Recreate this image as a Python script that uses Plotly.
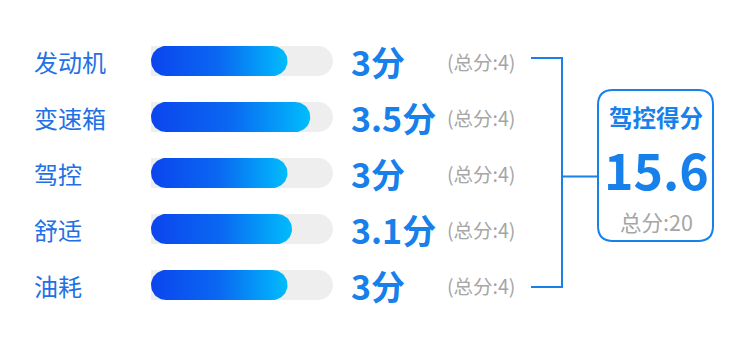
import numpy as np
import plotly.graph_objects as go

# ---- data ----
categories = ["发动机", "变速箱", "驾控", "舒适", "油耗"]
scores = [3, 3.5, 3, 3.1, 3]
max_scores = [4, 4, 4, 4, 4]
summary_title = "驾控得分"

W, H = 750, 339
FONT = "Noto Sans CJK SC"
BLUE_LABEL = "#2370E6"
BLUE = "#1780EA"
GRAY = "#A6A6A6"
TRACK = "#EEEEEE"

# layout geometry (pixels)
bar_x0, bar_x1 = 151, 333
row0, row_step = 61, 56
bar_h = 30

y_top = -row0 / row_step
y_bot = (H - row0) / row_step
full = max(max_scores)
px_x = full / (bar_x1 - bar_x0)   # data units per pixel (x)
px_y = 1 / row_step               # data units per pixel (y)
half = bar_h / 2 * px_y
rx = bar_h / 2 * px_x

fig = go.Figure()
rows = list(range(len(categories)))

# background track
fig.add_trace(go.Bar(
    x=max_scores, y=rows, orientation="h", width=bar_h * px_y,
    marker=dict(color=TRACK, cornerradius=bar_h / 2, line=dict(width=0)),
    hoverinfo="skip", showlegend=False,
))

# gradient value bars (rounded)
for i, v in enumerate(scores):
    t1 = np.linspace(-np.pi / 2, np.pi / 2, 30)
    t2 = np.linspace(np.pi / 2, 3 * np.pi / 2, 30)
    xs = np.concatenate([v - rx + rx * np.cos(t1), rx + rx * np.cos(t2)])
    ys = np.concatenate([i + half * np.sin(t1), i + half * np.sin(t2)])
    xs = np.append(xs, xs[0])
    ys = np.append(ys, ys[0])
    fig.add_trace(go.Scatter(
        x=xs, y=ys, mode="lines", fill="toself",
        line=dict(width=0, color="rgba(0,0,0,0)"),
        fillgradient=dict(type="horizontal",
                          colorscale=[[0, "#0C45EE"], [0.5, "#0A68F2"], [1, "#00BDFC"]]),
        hoverinfo="skip", showlegend=False,
    ))

annotations = []
for i, (c, v, m) in enumerate(zip(categories, scores, max_scores)):
    annotations.append(dict(x=32 / W, xref="paper", y=i, yref="y", text=c,
                            showarrow=False, xanchor="left", yanchor="middle",
                            font=dict(family=FONT, size=24, color=BLUE_LABEL)))
    annotations.append(dict(x=349 / W, xref="paper", y=i, yref="y",
                            text=f"<b>{v:g}分</b>",
                            showarrow=False, xanchor="left", yanchor="middle",
                            font=dict(family=FONT, size=34, color=BLUE)))
    annotations.append(dict(x=445 / W, xref="paper", y=i, yref="y",
                            text=f"(总分:{m:g})",
                            showarrow=False, xanchor="left", yanchor="middle",
                            font=dict(family=FONT, size=19.5, color=GRAY)))

total = round(sum(scores), 1)
total_max = sum(max_scores)
cx = 656 / W
annotations.append(dict(x=cx, xref="paper", y=1 - 117 / H, yref="paper",
                        text=f"<b>{summary_title}</b>", showarrow=False,
                        xanchor="center", yanchor="middle",
                        font=dict(family=FONT, size=23.5, color=BLUE)))
annotations.append(dict(x=cx, xref="paper", y=1 - 168 / H, yref="paper",
                        text=f"<b>{total:g}</b>", showarrow=False,
                        xanchor="center", yanchor="middle",
                        font=dict(family=FONT, size=50, color=BLUE)))
annotations.append(dict(x=cx, xref="paper", y=1 - 221 / H, yref="paper",
                        text=f"总分:{total_max:g}", showarrow=False,
                        xanchor="center", yanchor="middle",
                        font=dict(family=FONT, size=21.5, color=GRAY)))


def P(px, py):
    return f"{px / W:.5f},{1 - py / H:.5f}"


# bracket
first_y = row0 - 3
last_y = row0 + row_step * (len(categories) - 1) + 2
mid_y = (first_y + last_y) / 2 + 4
bracket = (f"M{P(531, first_y)} L{P(562, first_y)} L{P(562, last_y)} L{P(531, last_y)} "
           f"M{P(562, mid_y)} L{P(597, mid_y)}")

# rounded box
bx0, bx1, by0, by1, r = 598, 713, 90, 241, 15
box = (f"M{P(bx0 + r, by0)} L{P(bx1 - r, by0)} Q{P(bx1, by0)} {P(bx1, by0 + r)} "
       f"L{P(bx1, by1 - r)} Q{P(bx1, by1)} {P(bx1 - r, by1)} "
       f"L{P(bx0 + r, by1)} Q{P(bx0, by1)} {P(bx0, by1 - r)} "
       f"L{P(bx0, by0 + r)} Q{P(bx0, by0)} {P(bx0 + r, by0)} Z")

shapes = [
    dict(type="path", path=bracket, xref="paper", yref="paper",
         line=dict(color=BLUE, width=2)),
    dict(type="path", path=box, xref="paper", yref="paper",
         line=dict(color=BLUE, width=2)),
]

fig.update_layout(
    width=W, height=H, autosize=False,
    margin=dict(l=0, r=0, t=0, b=0),
    paper_bgcolor="white", plot_bgcolor="white",
    xaxis=dict(domain=[bar_x0 / W, bar_x1 / W], range=[0, full], visible=False, fixedrange=True),
    yaxis=dict(domain=[0, 1], range=[y_bot, y_top], visible=False, fixedrange=True),
    annotations=annotations, shapes=shapes,
    barmode="overlay", showlegend=False,
)

fig.write_html("out.html")
